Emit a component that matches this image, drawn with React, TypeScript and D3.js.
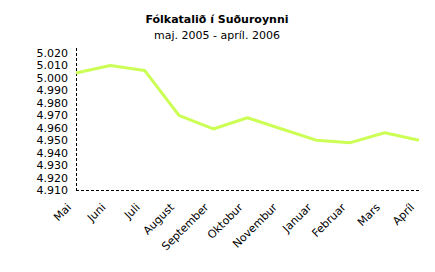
import React from "react";
import * as d3 from "d3";

const months = ["Mai", "Juni", "Juli", "August", "September", "Oktobur", "Novembur", "Januar", "Februar", "Mars", "Apríl"];
const population = [5004, 5010, 5006, 4970, 4959, 4968, 4959, 4950, 4948, 4956, 4950];
const yTicks = [4910, 4920, 4930, 4940, 4950, 4960, 4970, 4980, 4990, 5000, 5010, 5020];
const title = "Fólkatalið í Suðuroynni";
const subtitle = "maj. 2005 - apríl. 2006";

const W = 435, H = 272;
const left = 76, right = 420, top = 53, bottom = 190;

export default function App() {
  const x = d3.scalePoint<string>().domain(months).range([left, 419]);
  const y = d3.scaleLinear().domain([4910, 5020]).range([bottom, top]);
  const line = d3.line<number>().x((_, i) => x(months[i])!).y((d) => y(d));
  const fmt = (v: number) => (v / 1000).toFixed(3);
  const font = "Verdana, 'DejaVu Sans', sans-serif";
  return (
    <svg width={W} height={H} style={{ position: "absolute", left: 0, top: 0, background: "#fff" }} fontFamily={font}>
      <rect width={W} height={H} fill="#fff" />
      <text x={217} y={23} textAnchor="middle" fontSize={11} fontWeight="bold">{title}</text>
      <text x={217} y={39} textAnchor="middle" fontSize={11}>{subtitle}</text>
      {yTicks.map((t) => (
        <text key={t} x={68} y={y(t) + 4} textAnchor="end" fontSize={11}>{fmt(t)}</text>
      ))}
      <line x1={left + 0.5} x2={left + 0.5} y1={top - 5} y2={bottom} stroke="#000" strokeDasharray="3,2" />
      <line x1={left} x2={right} y1={bottom + 0.5} y2={bottom + 0.5} stroke="#000" strokeDasharray="3,2" />
      <path d={line(population) || ""} fill="none" stroke="#ccff55" strokeWidth={3} strokeLinejoin="round" />
      {months.map((m) => (
        <text key={m} transform={`translate(${x(m)! - 4},${bottom + 18}) rotate(-45)`} textAnchor="end" fontSize={11}>{m}</text>
      ))}
    </svg>
  );
}
